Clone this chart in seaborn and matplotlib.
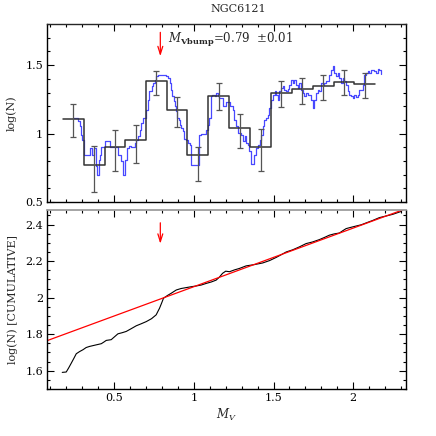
import numpy as np
import pandas as pd
import matplotlib
matplotlib.use("Agg")
import matplotlib.pyplot as plt
import seaborn as sns
from matplotlib.ticker import MultipleLocator

# ---------------- data ----------------
# fine running histogram (blue)
fine_m = [0.242, 0.273, 0.284, 0.294, 0.300, 0.309, 0.346, 0.361, 0.372, 0.388,
          0.392, 0.403, 0.409, 0.420, 0.430, 0.445, 0.472, 0.524, 0.530, 0.545,
          0.555, 0.570, 0.580, 0.593, 0.608, 0.633, 0.639, 0.649, 0.660, 0.670,
          0.680, 0.702, 0.712, 0.722, 0.737, 0.747, 0.754, 0.764, 0.775, 0.827,
          0.841, 0.848, 0.858, 0.865, 0.873, 0.879, 0.890, 0.896, 0.910, 0.915,
          0.921, 0.931, 0.937, 0.952, 0.962, 0.973, 0.984, 1.031, 1.046, 1.078,
          1.088, 1.098, 1.105, 1.109, 1.115, 1.130, 1.140, 1.150, 1.161, 1.185,
          1.203, 1.224, 1.244, 1.255, 1.265, 1.276, 1.297, 1.307, 1.318, 1.328,
          1.338, 1.349, 1.360, 1.380, 1.391, 1.401, 1.412, 1.422, 1.432, 1.443,
          1.454, 1.464, 1.474, 1.484, 1.495, 1.506, 1.516, 1.527, 1.537, 1.548,
          1.558, 1.568, 1.579, 1.589, 1.600, 1.610, 1.620, 1.631, 1.642, 1.652,
          1.662, 1.673, 1.683, 1.694, 1.704, 1.714, 1.736, 1.746, 1.756, 1.767,
          1.777, 1.788, 1.798, 1.808, 1.819, 1.830, 1.850, 1.861, 1.871, 1.882,
          1.892, 1.902, 1.913, 1.924, 1.934, 1.944, 1.955, 1.965, 1.976, 1.986,
          1.996, 2.007, 2.017, 2.028, 2.038, 2.049, 2.059, 2.070, 2.080, 2.090,
          2.101, 2.111, 2.121, 2.132, 2.143, 2.153, 2.163, 2.174]
fine_logn = [1.112, 1.090, 1.053, 0.993, 0.956, 0.842, 0.895, 0.842, 0.895, 0.766,
             0.700, 0.810, 0.842, 0.900, 0.900, 0.949, 0.900, 0.842, 0.842, 0.798,
             0.700, 0.810, 0.895, 0.912, 0.900, 0.932, 0.951, 0.980, 1.029, 1.078,
             1.115, 1.175, 1.248, 1.309, 1.345, 1.370, 1.394, 1.418, 1.430, 1.423,
             1.406, 1.370, 1.321, 1.273, 1.236, 1.200, 1.163, 1.115, 1.102, 1.066,
             1.042, 1.017, 0.961, 0.956, 0.932, 0.920, 0.774, 0.993, 1.000, 1.029,
             1.066, 1.115, 1.163, 1.273, 1.285, 1.273, 1.297, 1.273, 1.260, 1.200,
             1.230, 1.200, 1.175, 1.102, 1.053, 1.005, 0.993, 0.944, 0.980, 0.932,
             0.920, 0.871, 0.780, 0.847, 0.895, 0.920, 0.956, 0.993, 1.053, 1.102,
             1.114, 1.139, 1.188, 1.248, 1.285, 1.309, 1.285, 1.248, 1.309, 1.333,
             1.345, 1.321, 1.309, 1.326, 1.358, 1.394, 1.370, 1.394, 1.358, 1.333,
             1.370, 1.321, 1.297, 1.272, 1.297, 1.285, 1.248, 1.188, 1.248, 1.297,
             1.321, 1.309, 1.370, 1.358, 1.370, 1.382, 1.431, 1.467, 1.492, 1.443,
             1.418, 1.443, 1.406, 1.370, 1.406, 1.382, 1.358, 1.309, 1.285, 1.272,
             1.260, 1.285, 1.268, 1.285, 1.321, 1.321, 1.358, 1.431, 1.443, 1.455,
             1.443, 1.467, 1.467, 1.455, 1.443, 1.472, 1.467, 1.438]

# coarse histogram (black) with Poisson error bars
bin_edges = [0.18, 0.31, 0.44, 0.57, 0.70, 0.83, 0.96, 1.09, 1.22, 1.355,
             1.485, 1.614, 1.745, 1.877, 2.007, 2.137]
bin_logn = [1.11, 0.77, 0.90, 0.956, 1.382, 1.175, 0.845, 1.277, 1.04, 0.90,
            1.30, 1.326, 1.345, 1.38, 1.365]
err_low = [0.978, 0.572, 0.725, 0.786, 1.282, 1.046, 0.657, 1.17, 0.896, 0.725,
           1.195, 1.219, 1.248, 1.285, 1.26]
err_high = [1.217, 0.912, 1.029, 1.066, 1.46, 1.265, 0.903, 1.37, 1.146, 1.03,
            1.387, 1.407, 1.426, 1.462, 1.443]

# cumulative luminosity function
cum_m = [0.175, 0.200, 0.215, 0.232, 0.248, 0.263, 0.284, 0.305, 0.325, 0.346,
         0.385, 0.420, 0.436, 0.451, 0.482, 0.503, 0.524, 0.550, 0.576, 0.607,
         0.639, 0.670, 0.702, 0.735, 0.764, 0.775, 0.785, 0.798, 0.810, 0.835,
         0.858, 0.890, 0.920, 0.952, 0.985, 1.015, 1.046, 1.078, 1.110, 1.140,
         1.160, 1.180, 1.200, 1.224, 1.255, 1.286, 1.328, 1.380, 1.432, 1.475,
         1.516, 1.548, 1.579, 1.620, 1.662, 1.704, 1.745, 1.788, 1.820, 1.850,
         1.880, 1.913, 1.935, 1.955, 1.985, 2.017, 2.050, 2.080, 2.120, 2.163,
         2.205, 2.247, 2.300]
cum_logn = [1.591, 1.593, 1.615, 1.642, 1.668, 1.693, 1.705, 1.715, 1.727, 1.733,
            1.741, 1.748, 1.757, 1.766, 1.770, 1.786, 1.802, 1.808, 1.815, 1.830,
            1.846, 1.857, 1.869, 1.885, 1.906, 1.925, 1.942, 1.970, 1.997, 2.012,
            2.024, 2.042, 2.050, 2.055, 2.060, 2.064, 2.069, 2.078, 2.086, 2.096,
            2.112, 2.133, 2.145, 2.142, 2.152, 2.160, 2.174, 2.181, 2.190, 2.203,
            2.220, 2.235, 2.250, 2.262, 2.278, 2.296, 2.305, 2.318, 2.330, 2.342,
            2.349, 2.354, 2.367, 2.378, 2.385, 2.392, 2.399, 2.409, 2.422, 2.438,
            2.447, 2.456, 2.472]

# linear fit to cumulative
fit_intercept = 1.739
fit_slope = 0.321

bump_mag = 0.79
bump_err = 0.01
title = "NGC6121"

# ---------------- plotting ----------------
sns.set_theme(style="ticks")
plt.rcParams["font.family"] = ["DejaVu Serif"]
plt.rcParams["mathtext.fontset"] = "dejavuserif"
plt.rcParams["font.size"] = 8

fig = plt.figure(figsize=(4.36, 4.36), dpi=100)
ax1 = fig.add_axes([0.108, 0.5367, 0.823, 0.408])
ax2 = fig.add_axes([0.108, 0.1078, 0.823, 0.4106])

xlim = (0.08, 2.33)

# top panel
fine_df = pd.DataFrame({"M": fine_m, "logN": fine_logn})
sns.lineplot(data=fine_df, x="M", y="logN", ax=ax1, color="#4848ff",
             lw=0.9, drawstyle="steps-post", estimator=None, errorbar=None,
             sort=False)
hist_df = pd.DataFrame({"M": bin_edges, "logN": bin_logn + [bin_logn[-1]]})
sns.lineplot(data=hist_df, x="M", y="logN", ax=ax1, color="#333333",
             lw=1.1, drawstyle="steps-post", estimator=None, errorbar=None,
             sort=False)
centers = [(a + b) / 2 for a, b in zip(bin_edges[:-1], bin_edges[1:])]
mid = [(l + h) / 2 for l, h in zip(err_low, err_high)]
half = [(h - l) / 2 for l, h in zip(err_low, err_high)]
ax1.errorbar(centers, mid, yerr=half, fmt="none", ecolor="#555555",
             elinewidth=0.9, capsize=2, capthick=0.9)

ax1.set_xlim(*xlim)
ax1.set_ylim(0.5, 1.8)
ax1.xaxis.set_major_locator(MultipleLocator(0.5))
ax1.xaxis.set_minor_locator(MultipleLocator(0.1))
ax1.yaxis.set_minor_locator(MultipleLocator(0.1))
ax1.set_yticks([0.5, 1.0, 1.5])
ax1.set_yticklabels(["0.5", "1", "1.5"])
ax1.tick_params(labelbottom=False)
ax1.set_xlabel("")
ax1.set_ylabel("log(N)", fontsize=8, labelpad=6)

ax1.annotate("", xy=(bump_mag, 1.545), xytext=(bump_mag, 1.76),
             arrowprops=dict(arrowstyle="->,head_length=0.7,head_width=0.22",
                             color="red", lw=0.9))
ax1.text(0.84, 1.685, r"$M_{\mathbf{Vbump}}$=%.2f  ±%.2f" % (bump_mag, bump_err),
         fontsize=8.5, va="center", ha="left")

# bottom panel
cum_df = pd.DataFrame({"M": cum_m, "logN": cum_logn})
sns.lineplot(data=cum_df, x="M", y="logN", ax=ax2, color="black", lw=0.8,
             estimator=None, errorbar=None, sort=False)
fit_x = np.array(xlim)
ax2.plot(fit_x, fit_intercept + fit_slope * fit_x, color="red", lw=0.9)
ax2.annotate("", xy=(bump_mag, 2.28), xytext=(bump_mag, 2.425),
             arrowprops=dict(arrowstyle="->,head_length=0.7,head_width=0.22",
                             color="red", lw=0.9))
ax2.set_xlim(*xlim)
ax2.set_ylim(1.5, 2.48)
ax2.xaxis.set_minor_locator(MultipleLocator(0.1))
ax2.set_xticks([0.5, 1.0, 1.5, 2.0])
ax2.set_xticklabels(["0.5", "1", "1.5", "2"])
ax2.set_yticks([1.6, 1.8, 2.0, 2.2, 2.4])
ax2.set_yticklabels(["1.6", "1.8", "2", "2.2", "2.4"])
ax2.yaxis.set_minor_locator(MultipleLocator(0.05))
ax2.set_xlabel(r"$M_{V}$", fontsize=8.5, labelpad=3)
ax2.set_ylabel("log(N) [CUMULATIVE]", fontsize=8, labelpad=5)
ax2.spines["top"].set_color("#999999")

for ax in (ax1, ax2):
    ax.tick_params(which="both", direction="in", top=True, right=True,
                   labelsize=8, pad=3, width=0.8, colors="black")
    ax.tick_params(which="major", length=5)
    ax.tick_params(which="minor", length=2.5)
    for s in ("left", "right", "bottom"):
        ax.spines[s].set_linewidth(1.0)
        ax.spines[s].set_color("black")
ax1.spines["top"].set_linewidth(1.0)

fig.text(238 / 436, 1 - 9 / 436, title, ha="center", va="center", fontsize=8)

fig.savefig("out.png", dpi=100)
